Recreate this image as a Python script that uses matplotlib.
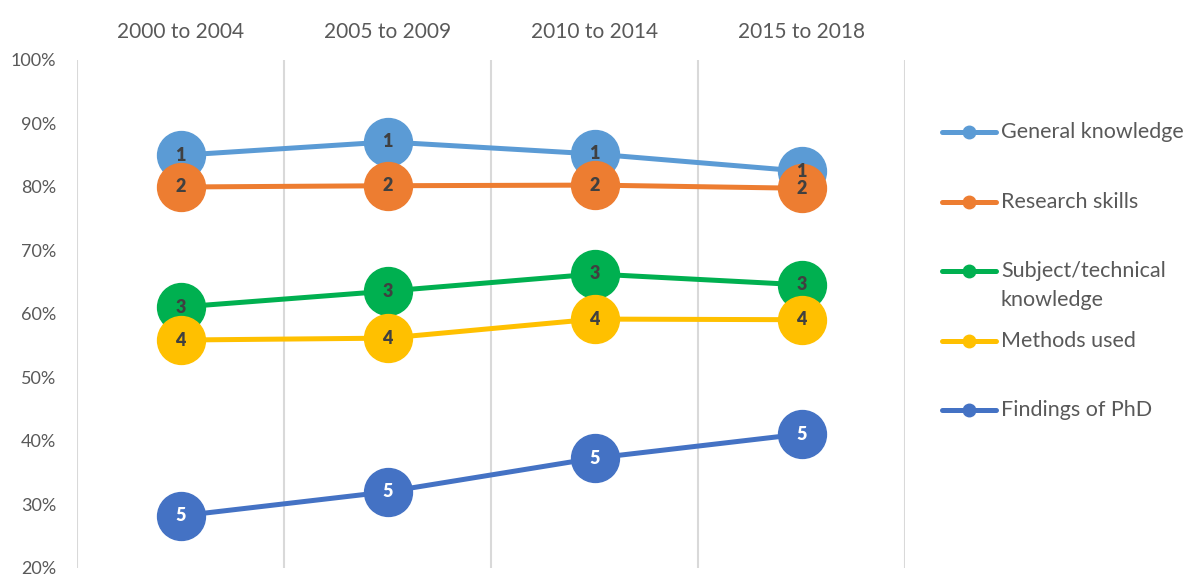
import numpy as np
import matplotlib.pyplot as plt
from matplotlib.lines import Line2D

periods = ['2000 to 2004', '2005 to 2009', '2010 to 2014', '2015 to 2018']
series_names = ['General knowledge', 'Research skills', 'Subject/technical\nknowledge',
                'Methods used', 'Findings of PhD']
general = [85.0, 87.1, 85.2, 82.5]
research = [80.0, 80.2, 80.3, 79.8]
subject = [61.1, 63.6, 66.3, 64.6]
methods = [55.9, 56.2, 59.2, 59.1]
findings = [28.2, 32.0, 37.3, 41.1]
ranks = ['1', '2', '3', '4', '5']

colors = ['#5B9BD5', '#ED7D31', '#00B050', '#FFC000', '#4472C4']
label_colors = ['#404040', '#404040', '#404040', '#404040', 'white']
all_series = [general, research, subject, methods, findings]

plt.rcParams['font.family'] = ['Lato', 'DejaVu Sans']

fig = plt.figure(figsize=(11.92, 5.74), dpi=100)
ax = fig.add_axes([77/1192, 1 - 568/574, (905-77)/1192, (568-60)/574])

x = np.arange(len(periods))
for i, vals in enumerate(all_series):
    ax.plot(x, vals, color=colors[i], lw=3.6, marker='o', ms=34.5,
            solid_capstyle='round', zorder=3 + i)
    for xi, v in zip(x, vals):
        ax.text(xi, v, ranks[i], ha='center', va='center', fontsize=13,
                fontweight='heavy', color=label_colors[i], zorder=20)

ax.set_xlim(-0.5, 3.5)
ax.set_ylim(20, 100)
ax.set_yticks(np.arange(20, 101, 10))
ax.set_yticklabels([f'{t}%' for t in range(20, 101, 10)])
ax.tick_params(axis='y', length=0, labelsize=13, labelcolor='#595959', pad=15)
ax.set_xticks(x)
ax.set_xticklabels(periods)
ax.xaxis.tick_top()
ax.tick_params(axis='x', length=0, labelsize=15, labelcolor='#595959', pad=13)
for b in np.arange(-0.5, 3.6, 1):
    ax.axvline(b, color='#D9D9D9', lw=1.5, zorder=1)
for s in ax.spines.values():
    s.set_visible(False)

# legend on the right
leg_y = [132, 202, 271, 341, 410]
for i, name in enumerate(series_names):
    yf = 1 - leg_y[i] / 574
    fig.add_artist(Line2D([942/1192, 996/1192], [yf, yf], color=colors[i], lw=3.6,
                          solid_capstyle='round', transform=fig.transFigure))
    fig.add_artist(Line2D([969/1192], [yf], color=colors[i], marker='o', ms=9,
                          transform=fig.transFigure))
    ty = yf - (14.5 / 574 if '\n' in name else 0)
    fig.text(1001/1192, ty, name, ha='left', va='center',
             fontsize=15.5, color='#595959', linespacing=1.58)

fig.savefig('out.png', dpi=100)
